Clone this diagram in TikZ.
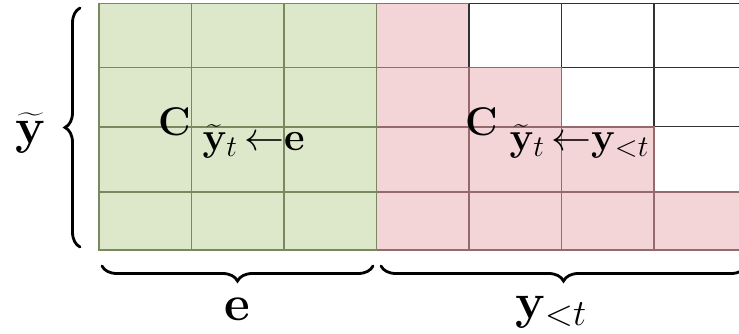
\documentclass[tikz,border=0pt]{standalone}
\usepackage{fix-cm}
\usepackage{amsmath}
\DeclareMathSizes{50}{50}{37}{28}
\DeclareMathSizes{40}{40}{30}{22}
\usetikzlibrary{decorations.pathreplacing}
\definecolor{gfill}{RGB}{221,231,201}
\definecolor{gline}{RGB}{122,136,96}
\definecolor{pfill}{RGB}{243,212,215}
\definecolor{pline}{RGB}{150,105,108}
\definecolor{wline}{RGB}{50,50,50}
\newcommand{\lowsub}[1]{\hspace{12pt}\raisebox{-15pt}{$#1$}}
\tikzset{
  gcell/.style={fill=gfill},
  pcell/.style={fill=pfill},
  gridg/.style={draw=gline,line width=1.6pt},
  gridp/.style={draw=pline,line width=1.6pt},
  gridw/.style={draw=wline,line width=1.4pt},
  bracelook/.style={decorate,decoration={brace,amplitude=15pt},line width=2.8pt,line cap=round},
  biglab/.style={font=\fontsize{50}{60}\selectfont,inner sep=0pt},
  clab/.style={font=\fontsize{40}{48}\selectfont,inner sep=0pt}
}
\begin{document}
\begin{tikzpicture}[x=1pt,y=-1pt]
\useasboundingbox (0,0) rectangle (739,333);
\clip (0,0) rectangle (739,333);
% fills
\fill[gcell] (99,3.3) rectangle (376.5,250);
\fill[pcell] (376.5,3.3) rectangle (469,250);
\fill[pcell] (469,67.3) rectangle (561.5,250);
\fill[pcell] (561.5,126.7) rectangle (654,250);
\fill[pcell] (654,191.7) rectangle (746.5,250);
% white region grid
\draw[gridw] (469,3.3) -- (746.5,3.3);
\draw[gridw] (469,3.3) -- (469,67.3) -- (746.5,67.3);
\draw[gridw] (561.5,3.3) -- (561.5,126.7) -- (746.5,126.7);
\draw[gridw] (654,3.3) -- (654,191.7) -- (746.5,191.7);
% pink grid
\draw[gridp] (376.5,3.3) -- (469,3.3);
\draw[gridp] (376.5,67.3) -- (469,67.3);
\draw[gridp] (376.5,126.7) -- (561.5,126.7);
\draw[gridp] (376.5,191.7) -- (654,191.7);
\draw[gridp] (376.5,250) -- (746.5,250);
\draw[gridp] (469,67.3) -- (469,250);
\draw[gridp] (561.5,126.7) -- (561.5,250);
\draw[gridp] (654,191.7) -- (654,250);
\draw[gridp] (469,67.3) -- (561.5,67.3) -- (561.5,126.7) -- (654,126.7) -- (654,191.7) -- (746.5,191.7);
% green grid
\draw[gridg] (99,3.3) rectangle (376.5,250);
\draw[gridg] (191.5,3.3) -- (191.5,250);
\draw[gridg] (284,3.3) -- (284,250);
\draw[gridg] (99,67.3) -- (376.5,67.3);
\draw[gridg] (99,126.7) -- (376.5,126.7);
\draw[gridg] (99,191.7) -- (376.5,191.7);
% braces
\coordinate (lb1) at (80,247);
\coordinate (lb2) at (80,8);
\coordinate (bb1) at (102,266);
\coordinate (bb2) at (373,266);
\coordinate (bc1) at (381,266);
\coordinate (bc2) at (746,266);
\draw[bracelook] (lb1) -- (lb2);
\draw[bracelook] (bb2) -- (bb1);
\draw[bracelook] (bc2) -- (bc1);
% labels
\node[biglab,anchor=base] (ylab) at (31,143) {$\widetilde{\mathbf{y}}$};
\node[biglab,anchor=base] (elab) at (237,320) {$\mathbf{e}$};
\node[biglab,anchor=base west] (yltlab) at (515,318) {$\mathbf{y}_{<t}$};
\node[clab,anchor=base west] (cleft) at (158,135) {$\mathbf{C}\lowsub{\widetilde{\mathbf{y}}_t\mkern3mu{\leftarrow}\mathbf{e}}$};
\node[clab,anchor=base west] (cright) at (465,135) {$\mathbf{C}\lowsub{\widetilde{\mathbf{y}}_t\mkern3mu{\leftarrow}\mathbf{y}_{<t}}$};
\end{tikzpicture}
\end{document}
